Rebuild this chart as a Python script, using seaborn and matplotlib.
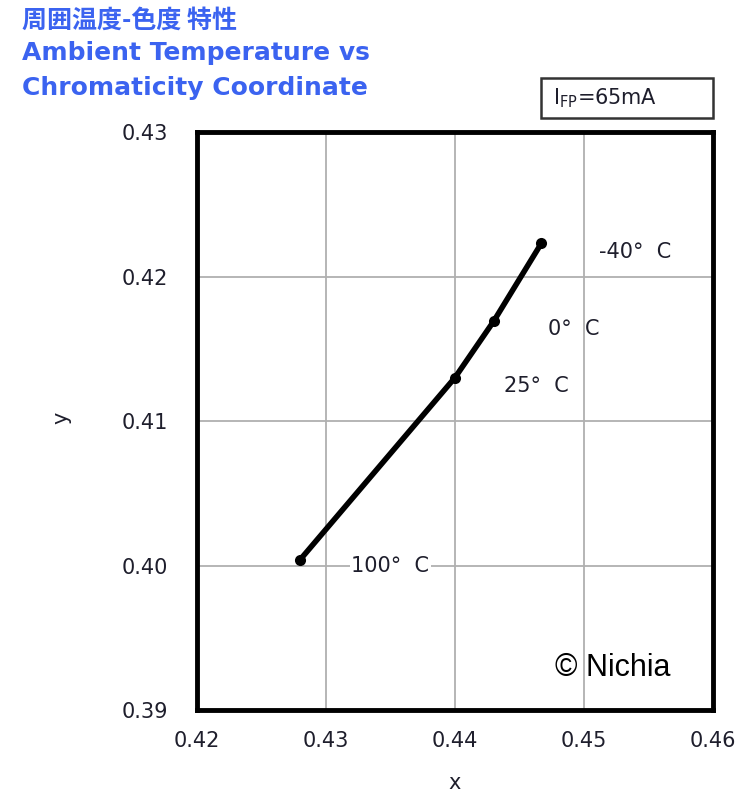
import matplotlib
matplotlib.use("Agg")
import matplotlib.pyplot as plt
from matplotlib.patches import Rectangle
import seaborn as sns
import pandas as pd

# data
temps = ["-40° C", "0° C", "25° C", "100° C"]
cx = [0.4467, 0.4430, 0.4400, 0.4280]
cy = [0.4223, 0.4169, 0.4130, 0.4004]
xticks = [0.42, 0.43, 0.44, 0.45, 0.46]
yticks = [0.39, 0.40, 0.41, 0.42, 0.43]

df = pd.DataFrame({"temp": temps, "x": cx, "y": cy})

sns.set_theme(style="white")
plt.rcParams['font.family'] = ['DejaVu Sans', 'Noto Sans CJK JP']

fig = plt.figure(figsize=(7.4, 7.92), dpi=100)
ax = fig.add_axes([0.266, 0.1035, 0.6975, 0.7298])

sns.lineplot(data=df, x="x", y="y", sort=False, color="black", linewidth=4,
             marker="o", markersize=8, markeredgewidth=0, ax=ax)

ax.set_xlim(0.42, 0.46)
ax.set_ylim(0.39, 0.43)
ax.set_xticks(xticks)
ax.set_yticks(yticks)
ax.set_xticklabels(["%.2f" % v for v in xticks])
ax.set_yticklabels(["%.2f" % v for v in yticks])
ax.grid(True, color="#b0b0b0", linewidth=1.3)
for s in ax.spines.values():
    s.set_linewidth(3.5)
    s.set_color("black")
ax.tick_params(axis="both", length=0, labelsize=15, colors="#1e1e2c")
ax.tick_params(axis="x", pad=15)
ax.tick_params(axis="y", pad=21)
ax.set_xlabel("x", fontsize=15, color="#1e1e2c")
ax.set_ylabel("y", fontsize=15, color="#1e1e2c")
ax.xaxis.label.set_va("center")
ax.yaxis.label.set_va("center")
ax.xaxis.set_label_coords(0.5, -0.126)
ax.yaxis.set_label_coords(-0.262, 0.505)

# temperature labels
offsets = {"-40° C": (0.0073, -0.0006), "0° C": (0.0062, -0.0005),
           "25° C": (0.0063, -0.0006), "100° C": (0.0070, -0.0004)}
for t, xv, yv in zip(temps, cx, cy):
    dx, dy = offsets[t]
    bbox = dict(facecolor="white", edgecolor="none", pad=1) if t == "100° C" else None
    ax.text(xv + dx, yv + dy, t.replace("° ", "°  "), fontsize=15, color="#1e1e2c",
            ha="center", va="center", bbox=bbox)

ax.text(0.4522, 0.3929, "© Nichia", fontsize=22, color="black",
        family="Liberation Sans", ha="center", va="center")

# titles
blue = "#3b63f0"
fig.text(0.03, 0.974, "周囲温度-色度 特性", fontsize=18, fontweight="bold",
         color=blue, family=["Noto Sans CJK JP", "DejaVu Sans"], va="center")
fig.text(0.03, 0.933, "Ambient Temperature vs", fontsize=18, fontweight="bold",
         color=blue, va="center")
fig.text(0.03, 0.889, "Chromaticity Coordinate", fontsize=18, fontweight="bold",
         color=blue, va="center")

# current box
fig.add_artist(Rectangle((0.731, 0.851), 0.2324, 0.0505, transform=fig.transFigure,
                         facecolor="white", edgecolor="#333333", linewidth=1.8))
fig.text(0.747, 0.876, r"I$_{\mathregular{FP}}$=65mA", fontsize=15, color="#1e1e2c",
         va="center", ha="left")

fig.savefig("out.png", dpi=100)
